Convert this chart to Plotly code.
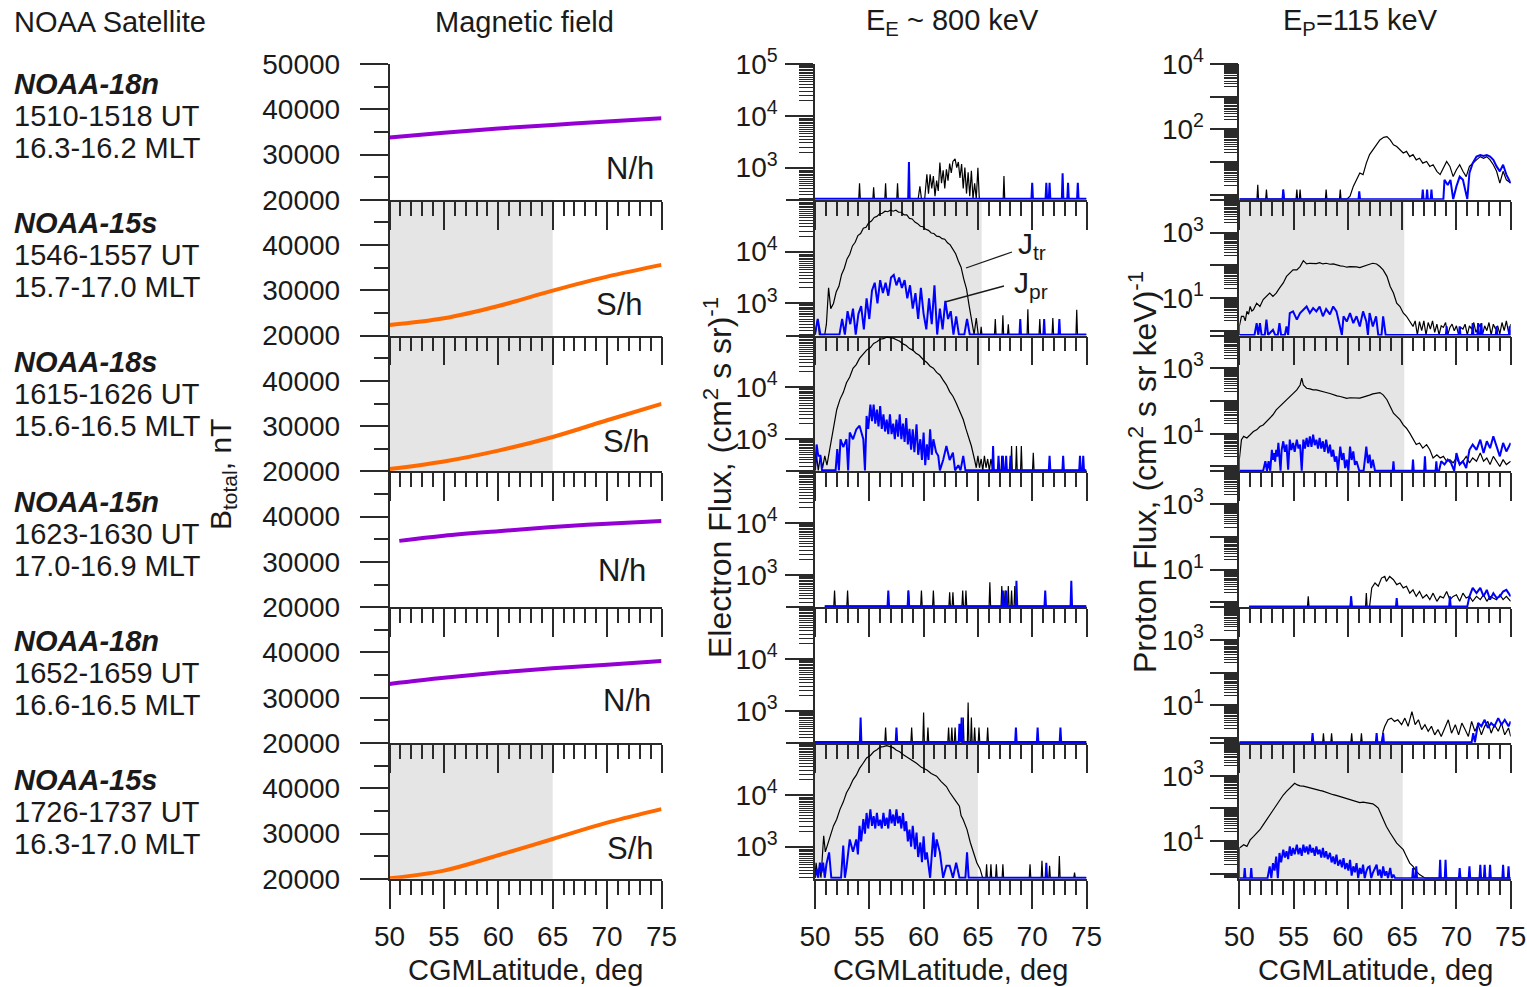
import math
import plotly.graph_objects as go

# ---------------------------------------------------------------------------
# Figure geometry (pixels)
# ---------------------------------------------------------------------------
W, H = 1527, 987
FONT = "Liberation Sans, Arial, sans-serif"
INK = "#1a1a1a"
AX = "#2a2a2a"
FS = 28          # tick labels
FS_TXT = 29      # panel texts
FS_YT = 32       # rotated flux titles

COL_X = [(389.5, 661.5), (815.0, 1086.5), (1239.3, 1510.7)]
ROW_TOP = 64.0
ROW_H = 135.8
NROW = 6

E_RANGE = [2.38, 5.0]      # log10 electron flux
P_RANGE = [-0.15, 4.0]     # log10 proton flux
E_FLOOR = 2.40
P_FLOOR = -0.13

# ---------------------------------------------------------------------------
# Passes
# ---------------------------------------------------------------------------
SAT_NAMES = ["NOAA-18n", "NOAA-15s", "NOAA-18s", "NOAA-15n", "NOAA-18n", "NOAA-15s"]
SAT_UT = ["1510-1518 UT", "1546-1557 UT", "1615-1626 UT",
          "1623-1630 UT", "1652-1659 UT", "1726-1737 UT"]
SAT_MLT = ["16.3-16.2 MLT", "15.7-17.0 MLT", "15.6-16.5 MLT",
           "17.0-16.9 MLT", "16.6-16.5 MLT", "16.3-17.0 MLT"]
HEMI = ["N/h", "S/h", "S/h", "N/h", "N/h", "S/h"]
PASS_START = [50.0, 50.0, 50.0, 50.9, 50.0, 50.0]

# ---------------------------------------------------------------------------
# Magnetic field, nT
# ---------------------------------------------------------------------------
B_LAT = [
    [50, 55, 60, 65, 70, 75],
    [50, 55, 60, 65, 70, 75],
    [50, 55, 60, 65, 70, 75],
    [50.9, 55, 60, 65, 70, 75],
    [50, 55, 60, 65, 70, 75],
    [50, 55, 60, 65, 70, 75],
]
B_TOTAL = [
    [33760, 34800, 35750, 36550, 37300, 38030],
    [22350, 23830, 26550, 29930, 33030, 35620],
    [20530, 22200, 24600, 27610, 31300, 34910],
    [34650, 35800, 36800, 37700, 38450, 39070],
    [33050, 34400, 35550, 36500, 37260, 38140],
    [20100, 21800, 25200, 28800, 32400, 35400],
]
B_COLOR = ["#9400d3", "#ff6a00", "#ff6a00", "#9400d3", "#9400d3", "#ff6a00"]

# ---------------------------------------------------------------------------
# Electron flux E_E ~ 800 keV, log10 (cm2 s sr)^-1
# J_tr = trapped (black), J_pr = precipitating (blue)
# ---------------------------------------------------------------------------
E1_TR = [(59.5, 2.4), (59.66, 2.64), (59.8, 2.4), (60.1, 2.4), (60.3, 2.87), (60.45, 2.5),
         (60.6, 2.87), (60.75, 2.6), (60.9, 2.84), (61.05, 2.45), (61.2, 2.75), (61.35, 2.55),
         (61.5, 3.10), (61.65, 2.7), (61.8, 2.95), (61.95, 2.6), (62.1, 2.97), (62.25, 2.75),
         (62.4, 3.08), (62.55, 2.9), (62.7, 3.12), (62.9, 3.17), (63.05, 3.0), (63.2, 3.11),
         (63.35, 2.8), (63.5, 3.07), (63.65, 2.6), (63.8, 3.0), (63.95, 2.5), (64.1, 2.91),
         (64.25, 2.45), (64.4, 2.94), (64.55, 2.4), (64.7, 2.7), (64.85, 2.4), (65.0, 3.0),
         (65.1, 2.4)]
E1_TR_SPIKES = [(54.1, 2.70), (55.4, 2.62), (56.5, 2.70), (57.6, 2.70), (67.4, 2.84)]
E1_PR_SPIKES = [(58.65, 3.11), (70.0, 2.71), (71.3, 2.71), (71.6, 2.71), (72.8, 2.89),
                (73.3, 2.71), (74.2, 2.71)]

E2_TR = [(50.0, 2.4), (50.25, 2.7), (50.4, 2.4), (50.9, 2.4), (51.05, 2.6), (51.25, 3.3),
         (51.45, 2.9), (51.7, 3.0), (51.95, 3.22), (52.2, 3.33), (52.45, 3.56), (52.7, 3.68),
         (52.95, 3.86), (53.2, 3.95), (53.45, 4.11), (53.7, 4.18), (53.95, 4.31), (54.2, 4.35),
         (54.45, 4.45), (54.7, 4.47), (54.95, 4.56), (55.2, 4.59), (55.45, 4.66), (55.7, 4.68),
         (55.95, 4.73), (56.2, 4.74), (56.45, 4.78), (56.7, 4.77), (56.95, 4.80), (57.2, 4.78),
         (57.45, 4.80), (57.7, 4.76), (57.95, 4.76), (58.2, 4.71), (58.45, 4.71), (58.7, 4.64),
         (58.95, 4.63), (59.2, 4.57), (59.45, 4.54), (59.7, 4.49), (59.95, 4.48), (60.2, 4.43),
         (60.45, 4.41), (60.7, 4.36), (60.95, 4.35), (61.2, 4.30), (61.45, 4.29), (61.7, 4.25),
         (61.95, 4.24), (62.2, 4.17), (62.45, 4.13), (62.7, 4.03), (62.95, 3.96), (63.2, 3.82),
         (63.45, 3.70), (63.7, 3.47), (63.95, 3.28), (64.2, 2.95), (64.45, 2.66), (64.65, 2.4),
         (64.85, 2.72), (65.0, 2.4)]
E2_TR_SPIKES = [(65.3, 2.55), (66.6, 2.70), (67.3, 2.77), (67.8, 2.60), (69.6, 2.89),
                (70.7, 2.70), (71.9, 2.72), (74.1, 2.88)]
E2_PR = [(50.0, 2.4), (50.25, 2.7), (50.5, 2.4), (52.25, 2.4), (52.5, 2.7), (52.75, 2.4),
         (53.0, 2.85), (53.25, 2.6), (53.5, 2.9), (53.75, 2.4), (54.0, 2.8), (54.25, 2.95),
         (54.5, 2.5), (54.75, 3.1), (55.0, 2.7), (55.25, 3.25), (55.5, 3.4), (55.75, 3.0),
         (56.0, 3.45), (56.25, 3.2), (56.5, 3.4), (56.75, 3.15), (57.0, 3.5), (57.25, 3.55),
         (57.5, 3.35), (57.75, 3.5), (58.0, 3.3), (58.25, 3.45), (58.5, 3.1), (58.75, 3.35),
         (59.0, 2.9), (59.25, 3.2), (59.5, 2.7), (59.75, 3.3), (60.0, 2.8), (60.25, 2.5),
         (60.5, 3.1), (60.75, 2.6), (61.0, 3.35), (61.25, 2.4), (61.5, 2.9), (61.75, 2.5),
         (62.0, 3.05), (62.25, 2.7), (62.5, 2.85), (62.75, 2.4), (63.0, 2.75), (63.25, 2.4),
         (63.75, 2.4), (64.0, 2.7), (64.25, 2.4)]
E2_PR_SPIKES = [(68.9, 2.70), (71.1, 2.70), (72.5, 2.70)]

E3_TR = [(50.0, 2.4), (50.15, 2.68), (50.3, 2.4), (50.5, 2.68), (50.7, 2.45), (50.9, 2.68),
         (51.1, 2.5), (51.4, 2.87), (51.7, 3.19), (52.0, 3.57), (52.3, 3.77), (52.6, 3.90),
         (52.9, 4.09), (53.2, 4.20), (53.5, 4.37), (53.8, 4.44), (54.1, 4.56), (54.4, 4.63),
         (54.75, 4.72), (55.1, 4.77), (55.4, 4.85), (55.7, 4.88), (56.0, 4.93), (56.3, 4.94),
         (56.6, 4.97), (56.9, 4.96), (57.2, 4.95), (57.5, 4.92), (57.8, 4.89), (58.1, 4.84),
         (58.4, 4.81), (58.7, 4.75), (59.0, 4.72), (59.3, 4.66), (59.6, 4.62), (60.0, 4.53),
         (60.3, 4.48), (60.6, 4.41), (60.9, 4.37), (61.2, 4.29), (61.5, 4.24), (61.8, 4.14),
         (62.1, 4.05), (62.4, 3.92), (62.7, 3.83), (63.0, 3.70), (63.3, 3.56), (63.65, 3.38),
         (63.9, 3.20), (64.1, 3.06), (64.4, 2.87), (64.7, 2.60), (64.85, 2.45), (65.0, 2.68),
         (65.15, 2.45), (65.3, 2.62), (65.45, 2.4), (65.6, 2.68), (65.75, 2.45), (65.9, 2.62),
         (66.05, 2.4), (66.2, 2.62), (66.35, 2.4)]
E3_TR_SPIKES = [(67.2, 2.68), (68.1, 2.87), (68.55, 2.87), (69.0, 2.87), (70.1, 2.74)]
E3_PR = [(50.0, 2.4), (50.15, 2.90), (50.3, 2.68), (50.5, 2.68), (50.65, 2.4), (51.9, 2.4),
         (52.05, 2.81), (52.2, 2.4), (52.35, 3.0), (52.6, 2.85), (52.9, 3.0), (53.05, 2.4),
         (53.2, 3.13), (53.5, 3.0), (53.8, 3.19), (54.1, 3.26), (54.45, 3.0), (54.6, 2.4),
         (54.75, 3.45), (54.9, 3.2), (55.1, 3.67), (55.25, 3.35), (55.4, 3.67), (55.55, 3.3),
         (55.7, 3.57), (55.85, 3.25), (56.0, 3.64), (56.15, 3.2), (56.3, 3.48), (56.45, 3.15),
         (56.6, 3.38), (56.75, 3.1), (56.9, 3.48), (57.05, 3.1), (57.2, 3.30), (57.35, 3.0),
         (57.5, 3.38), (57.65, 3.05), (57.8, 3.48), (57.95, 3.0), (58.1, 3.30), (58.25, 2.95),
         (58.4, 3.41), (58.55, 2.9), (58.7, 3.20), (58.85, 2.8), (59.0, 3.19), (59.15, 2.75),
         (59.35, 3.29), (59.5, 2.7), (59.7, 3.0), (59.85, 2.6), (60.0, 3.13), (60.15, 2.5),
         (60.3, 2.90), (60.45, 2.6), (60.6, 3.19), (60.75, 2.7), (60.9, 3.0), (61.15, 2.75),
         (61.35, 2.68), (61.5, 2.4), (61.8, 2.6), (62.1, 2.87), (62.4, 2.6), (62.7, 2.74),
         (62.9, 2.4), (63.2, 2.5), (63.4, 2.4), (63.65, 2.68), (63.85, 2.4)]
E3_PR_SPIKES = [(66.4, 2.87), (66.9, 2.68), (67.3, 2.68), (67.6, 2.68), (68.0, 2.68),
                (71.6, 2.68), (72.85, 2.68), (74.4, 2.68), (74.7, 2.68)]

E4_TR_SPIKES = [(51.8, 2.70), (53.0, 2.70), (58.6, 2.70), (59.8, 2.70), (60.9, 2.70),
                (62.4, 2.67), (62.7, 2.67), (63.6, 2.70), (63.9, 2.70), (66.1, 2.86),
                (67.2, 2.79), (67.5, 2.70), (67.8, 2.79), (68.1, 2.70), (68.4, 2.79)]
E4_PR_SPIKES = [(56.75, 2.70), (58.6, 2.70), (67.3, 2.70), (67.6, 2.70), (68.55, 2.89),
                (71.2, 2.70), (73.6, 2.89)]

E5_TR_SPIKES = [(56.5, 2.68), (58.9, 2.68), (60.0, 2.97), (60.4, 2.68), (62.3, 2.68),
                (62.6, 2.68), (62.9, 2.68), (63.65, 2.87), (64.1, 3.16), (64.4, 2.87),
                (64.7, 2.68), (65.1, 2.68), (65.9, 2.68)]
E5_PR_SPIKES = [(54.2, 2.87), (57.5, 2.68), (63.3, 2.75), (63.5, 2.87), (68.5, 2.68),
                (70.5, 2.68), (72.6, 2.68)]

E6_TR = [(50.0, 2.4), (50.1, 2.69), (50.25, 2.44), (50.4, 2.6), (50.55, 2.4), (50.7, 2.8),
         (50.8, 3.21), (50.95, 2.9), (51.1, 3.01), (51.4, 3.20), (51.7, 3.40), (52.0, 3.53),
         (52.3, 3.72), (52.6, 3.86), (52.9, 4.04), (53.2, 4.15), (53.5, 4.29), (53.8, 4.38),
         (54.1, 4.51), (54.4, 4.60), (54.75, 4.71), (55.1, 4.76), (55.4, 4.83), (55.7, 4.87),
         (56.0, 4.92), (56.3, 4.93), (56.6, 4.95), (56.9, 4.93), (57.2, 4.91), (57.5, 4.86),
         (57.8, 4.83), (58.1, 4.78), (58.4, 4.74), (58.8, 4.67), (59.35, 4.61), (59.8, 4.53),
         (60.3, 4.48), (60.7, 4.41), (61.2, 4.36), (61.6, 4.26), (62.1, 4.16), (62.4, 4.05),
         (62.7, 3.97), (63.0, 3.87), (63.3, 3.78), (63.45, 3.60), (63.65, 3.52), (64.0, 3.33),
         (64.3, 3.08), (64.6, 2.89), (64.9, 2.69), (65.2, 2.57), (65.4, 2.4)]
E6_TR_SPIKES = [(65.8, 2.66), (66.2, 2.66), (66.7, 2.66), (67.3, 2.66), (69.8, 2.66),
                (70.9, 2.73), (71.6, 2.63), (72.5, 2.82), (73.9, 2.50)]
E6_PR = [(50.0, 2.4), (50.15, 2.57), (50.3, 2.4), (50.45, 2.69), (50.6, 2.5), (50.75, 2.69),
         (50.9, 2.4), (51.05, 2.66), (51.3, 2.89), (51.5, 2.4), (52.4, 2.4), (52.6, 3.02),
         (52.75, 2.4), (52.9, 2.6), (53.2, 3.14), (53.5, 2.9), (53.8, 3.14), (53.95, 2.85),
         (54.1, 3.40), (54.25, 3.1), (54.45, 3.53), (54.6, 3.25), (54.75, 3.65), (54.9, 3.35),
         (55.1, 3.72), (55.25, 3.4), (55.4, 3.59), (55.55, 3.35), (55.7, 3.65), (55.85, 3.4),
         (56.0, 3.52), (56.15, 3.35), (56.3, 3.65), (56.45, 3.4), (56.6, 3.56), (56.75, 3.35),
         (56.9, 3.72), (57.05, 3.45), (57.2, 3.62), (57.35, 3.4), (57.5, 3.72), (57.65, 3.45),
         (57.8, 3.59), (57.95, 3.35), (58.1, 3.65), (58.25, 3.3), (58.4, 3.49), (58.55, 3.1),
         (58.7, 3.33), (58.85, 3.0), (59.0, 3.40), (59.2, 2.95), (59.35, 3.27), (59.5, 2.8),
         (59.7, 3.08), (59.85, 2.7), (60.0, 3.20), (60.15, 2.75), (60.3, 2.89), (60.6, 2.4),
         (60.9, 3.27), (61.05, 2.8), (61.2, 3.14), (61.5, 2.89), (61.8, 2.4), (62.1, 2.63),
         (62.4, 2.63), (62.7, 2.4), (63.0, 2.69), (63.3, 2.4), (63.85, 2.4), (64.0, 2.89),
         (64.15, 2.4)]
E6_PR_SPIKES = [(71.3, 2.69)]

# ---------------------------------------------------------------------------
# Proton flux E_P = 115 keV, log10 (cm2 s sr keV)^-1
# ---------------------------------------------------------------------------
P1_TR = [(59.9, -0.13), (60.2, -0.04), (60.5, 0.26), (60.8, 0.46), (61.1, 0.67), (61.4, 0.62),
         (61.7, 0.97), (62.0, 1.23), (62.3, 1.38), (62.6, 1.53), (62.95, 1.68), (63.3, 1.76),
         (63.6, 1.78), (63.9, 1.68), (64.2, 1.53), (64.5, 1.48), (64.8, 1.38), (65.1, 1.28),
         (65.4, 1.33), (65.7, 1.17), (66.0, 1.23), (66.3, 1.07), (66.6, 1.12), (66.9, 0.97),
         (67.25, 1.02), (67.55, 0.87), (67.85, 0.92), (68.2, 0.72), (68.5, 0.62), (68.8, 0.82),
         (69.1, 1.02), (69.4, 0.87), (69.7, 0.56), (70.0, 0.77), (70.3, 0.92), (70.6, 0.72),
         (70.9, 0.56), (71.2, 0.87), (71.5, 0.97), (71.85, 1.07), (72.2, 1.17), (72.5, 1.12),
         (72.8, 1.17), (73.1, 1.07), (73.4, 0.92), (73.7, 0.72), (74.0, 0.36), (74.3, 0.72),
         (74.6, 0.46), (75.0, 0.36)]
P1_TR_SPIKES = [(51.7, 0.31), (52.5, 0.16), (54.05, 0.16), (55.3, 0.16), (55.6, 0.16),
                (58.0, 0.16), (59.3, 0.16)]
P1_PR = [(68.8, -0.13), (68.9, 0.46), (69.2, 0.30), (69.45, 0.46), (69.7, -0.13), (70.0, 0.26),
         (70.3, 0.56), (70.6, 0.46), (70.9, -0.04), (71.0, -0.13), (71.2, 0.67), (71.5, 0.97),
         (71.85, 1.17), (72.2, 1.22), (72.5, 1.19), (72.8, 1.22), (73.1, 1.17), (73.4, 1.07),
         (73.7, 0.87), (74.0, 0.72), (74.3, 0.92), (74.6, 0.62), (75.0, 0.36)]
P1_PR_SPIKES = [(54.05, 0.16), (61.05, 0.11), (66.9, 0.16), (67.3, 0.16), (67.7, 0.16)]

P2_TR = [(50.0, 0.13), (50.2, 0.44), (50.4, 0.44), (50.55, 0.30), (50.7, 0.59), (50.85, 0.50),
         (51.0, 0.74), (51.15, 0.60), (51.3, 0.64), (51.6, 0.84), (51.9, 0.74), (52.2, 0.95),
         (52.5, 1.05), (52.8, 1.15), (53.1, 1.05), (53.4, 1.15), (53.7, 1.30), (54.05, 1.46),
         (54.35, 1.66), (54.65, 1.76), (54.95, 1.86), (55.3, 1.86), (55.6, 1.96), (55.9, 2.14),
         (56.2, 2.04), (56.5, 2.06), (56.8, 2.06), (57.1, 2.05), (57.4, 2.08), (57.7, 2.04),
         (58.0, 2.06), (58.35, 2.03), (58.65, 2.04), (59.0, 2.00), (59.3, 1.98), (59.6, 1.97),
         (59.9, 1.94), (60.2, 1.96), (60.5, 1.96), (60.8, 1.95), (61.1, 1.93), (61.4, 1.97),
         (61.7, 2.01), (62.0, 2.03), (62.3, 2.06), (62.65, 2.04), (62.95, 1.96), (63.25, 1.86),
         (63.6, 1.66), (63.9, 1.35), (64.2, 1.15), (64.5, 0.84), (64.8, 0.74), (65.1, 0.54),
         (65.4, 0.44), (65.7, 0.28), (66.0, 0.13), (66.2, 0.30), (66.4, -0.13), (66.6, 0.28),
         (66.8, 0.0), (67.0, 0.30), (67.2, -0.13), (67.4, 0.25), (67.6, 0.05), (67.8, 0.30),
         (68.0, -0.05), (68.2, 0.20), (68.4, -0.13), (68.6, 0.15), (68.8, 0.10), (69.0, 0.25),
         (69.2, -0.13), (69.4, 0.10), (69.6, 0.20), (69.8, 0.0), (70.0, 0.15), (70.2, -0.13),
         (70.4, 0.10), (70.6, 0.05), (70.8, 0.20), (71.0, -0.13), (71.2, 0.15), (71.4, 0.05),
         (71.6, 0.25), (71.8, -0.05), (72.0, 0.10), (72.2, 0.20), (72.4, -0.13), (72.6, 0.15),
         (72.8, 0.0), (73.0, 0.25), (73.2, -0.13), (73.4, 0.20), (73.6, 0.05), (73.8, 0.15),
         (74.0, -0.10), (74.2, 0.25), (74.4, 0.0), (74.6, 0.30), (74.8, -0.05), (75.0, 0.20)]
P2_PR = [(51.4, -0.13), (51.6, 0.23), (51.75, -0.13), (51.9, 0.23), (52.05, -0.13),
         (52.35, -0.13), (52.5, 0.34), (52.65, -0.13), (53.1, 0.03), (53.3, -0.13),
         (53.55, -0.13), (53.7, 0.23), (53.85, -0.13), (54.2, -0.13), (54.35, 0.13),
         (54.5, -0.13), (54.65, 0.54), (54.95, 0.59), (55.3, 0.34), (55.6, 0.54), (55.9, 0.64),
         (56.2, 0.74), (56.5, 0.54), (56.8, 0.69), (57.1, 0.59), (57.4, 0.74), (57.7, 0.44),
         (58.0, 0.66), (58.35, 0.50), (58.65, 0.74), (58.95, 0.59), (59.3, 0.13), (59.45, -0.13),
         (59.6, 0.44), (59.9, 0.28), (60.2, 0.54), (60.5, 0.23), (60.8, 0.44), (61.1, 0.13),
         (61.4, 0.59), (61.7, 0.28), (61.85, -0.13), (62.0, 0.54), (62.3, 0.13), (62.6, 0.44),
         (62.8, -0.13), (63.1, -0.13), (63.25, 0.44), (63.45, -0.13)]
P2_PR_SPIKES = [(69.1, 0.13), (70.3, 0.13), (71.5, 0.23), (72.0, 0.23), (72.3, 0.23),
                (73.7, 0.13), (74.9, 0.13)]

P3_TR = [(50.0, 0.21), (50.2, 0.82), (50.4, 0.92), (50.7, 0.87), (51.0, 0.97), (51.3, 1.07),
         (51.6, 1.12), (51.9, 1.22), (52.2, 1.27), (52.5, 1.38), (52.8, 1.48), (53.1, 1.58),
         (53.4, 1.73), (53.7, 1.83), (54.05, 1.93), (54.35, 2.04), (54.65, 2.14), (54.95, 2.24),
         (55.3, 2.34), (55.6, 2.49), (55.75, 2.70), (55.9, 2.49), (56.2, 2.39), (56.5, 2.37),
         (56.8, 2.34), (57.1, 2.34), (57.4, 2.32), (57.7, 2.30), (58.0, 2.26), (58.35, 2.23),
         (58.65, 2.19), (59.0, 2.16), (59.3, 2.14), (59.6, 2.10), (59.9, 2.08), (60.2, 2.10),
         (60.5, 2.09), (60.8, 2.10), (61.1, 2.09), (61.4, 2.12), (61.7, 2.14), (62.0, 2.18),
         (62.3, 2.22), (62.65, 2.25), (62.95, 2.26), (63.25, 2.19), (63.6, 2.04), (63.9, 1.83),
         (64.2, 1.63), (64.5, 1.53), (64.8, 1.43), (65.1, 1.27), (65.4, 1.17), (65.7, 1.02),
         (66.0, 0.82), (66.3, 0.67), (66.6, 0.72), (66.9, 0.56), (67.25, 0.67), (67.55, 0.51),
         (67.85, 0.26), (68.2, 0.36), (68.5, 0.26), (68.8, 0.31), (69.1, 0.16), (69.4, 0.21),
         (69.7, 0.11), (70.0, 0.26), (70.3, 0.06), (70.6, 0.16), (70.9, 0.31), (71.2, 0.11),
         (71.5, 0.26), (71.85, 0.16), (72.2, 0.41), (72.5, 0.16), (72.8, 0.26), (73.1, 0.06),
         (73.4, 0.31), (73.7, 0.16), (74.0, 0.0), (74.3, 0.21), (74.6, 0.06), (75.0, 0.16)]
P3_PR = [(52.2, -0.13), (52.4, 0.16), (52.55, -0.13), (52.7, 0.16), (52.85, -0.13),
         (53.0, 0.51), (53.1, 0.2), (53.2, 0.41), (53.3, 0.15), (53.4, 0.51), (53.5, 0.3),
         (53.6, 0.72), (53.7, 0.4), (53.8, -0.13), (53.9, 0.5), (54.05, 0.77), (54.2, 0.45),
         (54.35, 0.67), (54.5, -0.10), (54.65, 0.82), (54.8, 0.5), (54.95, 0.72), (55.1, 0.45),
         (55.3, 0.82), (55.45, 0.55), (55.6, 0.67), (55.75, -0.13), (55.9, 0.82), (56.05, 0.55),
         (56.2, 0.87), (56.35, 0.6), (56.5, 0.92), (56.65, 0.6), (56.8, 0.97), (56.95, 0.65),
         (57.1, 0.82), (57.25, 0.55), (57.4, 0.87), (57.55, 0.55), (57.7, 0.77), (57.85, 0.45),
         (58.0, 0.82), (58.2, 0.4), (58.35, 0.67), (58.5, 0.3), (58.65, 0.51), (58.8, 0.15),
         (58.95, 0.31), (59.1, -0.13), (59.3, 0.61), (59.45, 0.2), (59.6, 0.41), (59.75, -0.05),
         (59.9, 0.21), (60.05, -0.13), (60.2, 0.61), (60.35, 0.2), (60.5, 0.46), (60.65, 0.05),
         (60.8, 0.16), (61.05, -0.13), (61.45, -0.13), (61.6, 0.3), (61.7, 0.61), (61.85, 0.1),
         (62.0, 0.36), (62.15, -0.05), (62.3, 0.21), (62.5, -0.13)]
P3_PR_2 = [(68.4, -0.13), (68.6, 0.16), (68.9, 0.06), (69.2, 0.21), (69.5, 0.11), (69.8, -0.13),
           (70.0, 0.41), (70.3, 0.06), (70.6, 0.16), (70.9, -0.05), (71.2, 0.51), (71.5, 0.67),
           (71.85, 0.51), (72.2, 0.82), (72.5, 0.41), (72.8, 0.77), (73.1, 0.56), (73.4, 0.92),
           (73.7, 0.61), (74.0, 0.31), (74.3, 0.72), (74.6, 0.46), (75.0, 0.72)]
P3_PR_SPIKES = [(64.2, 0.16), (66.0, 0.21), (67.1, 0.31), (68.15, 0.16)]

P4_TR = [(62.0, -0.13), (62.2, 0.44), (62.5, 0.59), (62.8, 0.49), (63.1, 0.74), (63.4, 0.79),
         (63.55, 0.64), (63.85, 0.79), (64.2, 0.69), (64.5, 0.54), (64.8, 0.59), (65.1, 0.44),
         (65.4, 0.49), (65.7, 0.28), (66.0, 0.38), (66.3, 0.18), (66.6, 0.33), (66.9, 0.13),
         (67.25, 0.23), (67.55, 0.08), (67.85, 0.28), (68.2, 0.03), (68.5, 0.18), (68.8, 0.13),
         (69.1, 0.33), (69.4, 0.08), (69.7, 0.18), (70.0, 0.23), (70.3, 0.03), (70.6, 0.28),
         (70.9, 0.13), (71.2, 0.18), (71.5, 0.03), (71.85, 0.18), (72.2, 0.08), (72.5, 0.23),
         (72.8, 0.03), (73.1, 0.18), (73.4, 0.13), (73.7, 0.08), (74.0, 0.23), (74.3, 0.08),
         (74.6, 0.18), (75.0, 0.03)]
P4_TR_SPIKES = [(56.35, 0.18), (60.3, 0.18), (61.7, 0.28)]
P4_PR = [(71.0, -0.13), (71.2, 0.18), (71.5, 0.44), (71.85, 0.28), (72.2, 0.44), (72.5, 0.18),
         (72.8, 0.38), (73.1, 0.08), (73.4, 0.28), (73.7, 0.13), (74.0, 0.18), (74.3, 0.33),
         (74.6, 0.38), (75.0, 0.18)]
P4_PR_SPIKES = [(60.3, 0.18), (64.5, 0.13), (69.4, 0.18)]

P5_TR = [(63.1, -0.13), (63.25, 0.21), (63.4, 0.36), (63.7, 0.56), (64.0, 0.61), (64.3, 0.51),
         (64.6, 0.56), (64.95, 0.41), (65.25, 0.61), (65.55, 0.36), (65.9, 0.81), (66.2, 0.41),
         (66.5, 0.56), (66.8, 0.26), (67.1, 0.41), (67.4, 0.21), (67.7, 0.36), (68.0, 0.10),
         (68.3, 0.26), (68.6, 0.05), (68.9, 0.31), (69.25, 0.56), (69.55, 0.15), (69.9, 0.41),
         (70.2, 0.10), (70.5, 0.46), (70.8, 0.26), (71.1, 0.05), (71.4, 0.51), (71.7, 0.21),
         (72.0, 0.41), (72.3, 0.10), (72.6, 0.36), (72.9, 0.51), (73.2, 0.15), (73.5, 0.41),
         (73.85, 0.21), (74.15, 0.46), (74.45, 0.10), (74.8, 0.31), (75.0, 0.05)]
P5_TR_SPIKES = [(57.75, 0.15), (58.5, 0.15), (60.35, 0.15), (61.25, 0.15)]
P5_PR = [(71.4, -0.13), (71.55, 0.15), (71.7, -0.13), (72.0, 0.46), (72.3, 0.36), (72.6, 0.56),
         (72.9, 0.31), (73.2, 0.46), (73.5, 0.36), (73.85, 0.61), (74.15, 0.41), (74.45, 0.56),
         (74.8, 0.36), (75.0, 0.51)]
P5_PR_SPIKES = [(56.75, 0.15), (62.65, 0.15), (63.25, 0.15)]

P6_TR = [(50.0, 0.79), (50.2, 0.84), (50.4, 0.89), (50.7, 0.84), (51.0, 1.04), (51.3, 1.14),
         (51.6, 1.25), (51.9, 1.35), (52.2, 1.50), (52.5, 1.65), (52.8, 1.80), (53.1, 1.96),
         (53.4, 2.11), (53.7, 2.26), (54.05, 2.41), (54.35, 2.52), (54.65, 2.62), (54.95, 2.72),
         (55.1, 2.77), (55.35, 2.72), (55.6, 2.69), (55.9, 2.68), (56.2, 2.65), (56.5, 2.63),
         (56.8, 2.59), (57.1, 2.58), (57.4, 2.55), (57.7, 2.53), (58.0, 2.49), (58.35, 2.46),
         (58.65, 2.42), (59.0, 2.39), (59.3, 2.36), (59.6, 2.33), (59.9, 2.30), (60.2, 2.27),
         (60.5, 2.23), (60.8, 2.21), (61.1, 2.18), (61.4, 2.19), (61.7, 2.18), (62.0, 2.16),
         (62.3, 2.14), (62.55, 2.08), (62.8, 2.01), (63.05, 1.82), (63.25, 1.65), (63.55, 1.45),
         (63.9, 1.25), (64.2, 1.09), (64.5, 0.94), (64.8, 0.84), (65.1, 0.74), (65.4, 0.53),
         (65.7, 0.33), (66.0, 0.23), (66.3, 0.08), (66.6, -0.02), (66.9, -0.08), (67.1, -0.13)]
P6_PR = [(52.6, -0.13), (52.8, 0.23), (52.95, -0.13), (53.1, 0.33), (53.25, 0.1), (53.4, 0.53),
         (53.55, -0.13), (53.7, 0.64), (53.85, 0.35), (54.05, 0.74), (54.2, 0.5), (54.35, 0.69),
         (54.5, 0.45), (54.65, 0.84), (54.8, 0.55), (54.95, 0.79), (55.1, 0.6), (55.3, 0.89),
         (55.45, 0.6), (55.6, 0.79), (55.75, 0.55), (55.9, 0.89), (56.05, 0.65), (56.2, 0.84),
         (56.35, 0.6), (56.5, 0.89), (56.65, 0.65), (56.8, 0.79), (56.95, 0.55), (57.1, 0.84),
         (57.25, 0.6), (57.4, 0.74), (57.55, 0.5), (57.7, 0.79), (57.85, 0.5), (58.0, 0.69),
         (58.15, 0.45), (58.35, 0.64), (58.5, 0.35), (58.65, 0.53), (58.8, 0.3), (58.95, 0.59),
         (59.1, 0.25), (59.3, 0.43), (59.45, 0.2), (59.6, 0.48), (59.75, 0.15), (59.9, 0.33),
         (60.05, 0.1), (60.2, 0.43), (60.35, -0.05), (60.5, 0.23), (60.65, 0.05), (60.8, 0.33),
         (60.95, -0.13), (61.1, 0.18), (61.25, 0.0), (61.4, 0.28), (61.55, -0.13), (61.7, 0.08),
         (61.85, 0.2), (62.0, 0.23), (62.15, -0.13), (62.3, 0.03), (62.5, 0.2), (62.65, 0.28),
         (62.8, -0.05), (62.95, 0.13), (63.1, -0.13), (63.25, 0.23), (63.4, -0.05), (63.55, 0.08),
         (63.7, -0.13), (63.9, 0.18), (64.05, -0.13), (64.2, -0.02), (64.35, -0.13)]
P6_PR_SPIKES = [(50.5, 0.18), (51.1, 0.18), (66.0, 0.18), (66.3, 0.23), (68.5, 0.43),
                (69.0, 0.43), (70.3, 0.18), (71.2, 0.23), (72.2, 0.28), (72.6, 0.28),
                (73.1, 0.28), (74.3, 0.28), (74.8, 0.23)]

ELECTRON = [
    ([E1_TR], E1_TR_SPIKES, [], E1_PR_SPIKES),
    ([E2_TR], E2_TR_SPIKES, [E2_PR], E2_PR_SPIKES),
    ([E3_TR], E3_TR_SPIKES, [E3_PR], E3_PR_SPIKES),
    ([], E4_TR_SPIKES, [], E4_PR_SPIKES),
    ([], E5_TR_SPIKES, [], E5_PR_SPIKES),
    ([E6_TR], E6_TR_SPIKES, [E6_PR], E6_PR_SPIKES),
]
PROTON = [
    ([P1_TR], P1_TR_SPIKES, [P1_PR], P1_PR_SPIKES),
    ([P2_TR], [], [P2_PR], P2_PR_SPIKES),
    ([P3_TR], [], [P3_PR, P3_PR_2], P3_PR_SPIKES),
    ([P4_TR], P4_TR_SPIKES, [P4_PR], P4_PR_SPIKES),
    ([P5_TR], P5_TR_SPIKES, [P5_PR], P5_PR_SPIKES),
    ([P6_TR], [], [P6_PR], P6_PR_SPIKES),
]

# latitude of the shaded-interval edge per column / pass (None = no shading)
SHADE_END = [
    [None, 65.0, 65.0, None, None, 65.0],
    [None, 65.35, 65.35, None, None, 65.0],
    [None, 65.2, 65.2, None, None, 65.05],
]

# decade tick labels per column (first pass / other passes)
B_LABELS = ([20000, 30000, 40000, 50000], [20000, 30000, 40000])
E_LABELS = ([3, 4, 5], [3, 4])
P_LABELS = ([2, 4], [1, 3])
E_DECADES = [3, 4, 5]
P_DECADES = [0, 1, 2, 3, 4]
MINOR_MANTISSA = [2, 2.5, 3, 3.5, 4, 4.5, 5, 5.5, 6, 6.5, 7, 7.5, 8, 8.5, 9, 9.5]


# ---------------------------------------------------------------------------
# helpers
# ---------------------------------------------------------------------------
def pxx(x):
    return x / W


def pxy(y):
    return 1 - y / H


def assemble(start, segments, spikes, floor, half=0.07):
    """Join dense segments and isolated spikes over a floor-level baseline."""
    pts = [(start, floor)]
    reaches_end = any(seg[-1][0] >= 75.0 for seg in segments)
    if not reaches_end:
        pts.append((75.0, floor))
    for seg in segments:
        if seg[0][0] > start:
            pts.append((seg[0][0] - 0.03, floor))
        pts.extend(seg)
        if seg[-1][0] < 75.0:
            pts.append((seg[-1][0] + 0.03, floor))
    for lat, v in spikes:
        pts += [(lat - half, floor), (lat, v), (lat + half, floor)]
    pts.sort(key=lambda p: p[0])
    return [p[0] for p in pts], [10 ** p[1] for p in pts]


def sup(n):
    return "10<sup>%d</sup>" % n


def minor_vals(lo, hi):
    return [m * 10 ** d for d in range(int(math.floor(lo)) - 1, int(math.ceil(hi)) + 1)
            for m in MINOR_MANTISSA if lo <= math.log10(m * 10 ** d) <= hi]


fig = go.Figure()
tickfont = dict(family=FONT, size=FS, color=INK)
common_y = dict(ticks="outside", ticklen=28, tickwidth=1.5, tickcolor=AX, showgrid=False,
                zeroline=False, tickfont=tickfont, fixedrange=True)

for r in range(NROW):
    top = ROW_TOP + r * ROW_H
    bot = top + ROW_H
    ydom = [pxy(bot), pxy(top)]
    pick = 0 if r == 0 else 1
    for c in range(3):
        k = r * 3 + c + 1
        xa = "xaxis" if k == 1 else "xaxis%d" % k
        ya = "yaxis" if k == 1 else "yaxis%d" % k
        xr = "x" if k == 1 else "x%d" % k
        yr = "y" if k == 1 else "y%d" % k

        fig.layout[xa] = dict(
            domain=[pxx(COL_X[c][0]), pxx(COL_X[c][1])], anchor=yr,
            range=[50, 75], tickmode="array", tickvals=[50, 55, 60, 65, 70, 75],
            ticks="outside", ticklen=28, tickwidth=1.5, tickcolor=AX,
            showline=True, linecolor=AX, linewidth=1.5, showgrid=False, zeroline=False,
            showticklabels=(r == NROW - 1), tickfont=tickfont, ticklabelstandoff=4,
            minor=dict(ticks="outside", ticklen=14, tickwidth=1.5, tickcolor=AX,
                       tickmode="array",
                       tickvals=[v for v in range(51, 75) if v % 5 != 0]),
            fixedrange=True,
        )

        unlabeled = []
        if c == 0:
            vals = B_LABELS[pick]
            yaxis = dict(
                type="linear", range=[20000, 50000], tickmode="array",
                tickvals=vals, ticktext=[str(v) for v in vals],
                ticklabelstandoff=14,
                minor=dict(ticks="outside", ticklen=14, tickwidth=1.5, tickcolor=AX,
                           tickmode="array", tickvals=[25000, 35000, 45000]),
            )
        else:
            rng = E_RANGE if c == 1 else P_RANGE
            labels = (E_LABELS if c == 1 else P_LABELS)[pick]
            decades = E_DECADES if c == 1 else P_DECADES
            unlabeled = [10 ** d for d in decades if d not in labels]
            yaxis = dict(
                type="log", range=rng, tickmode="array",
                tickvals=[10 ** d for d in labels], ticktext=[sup(d) for d in labels],
                ticklabelstandoff=2 if c == 1 else 0,
                minor=dict(ticks="outside", ticklen=14, tickwidth=1.2, tickcolor=AX,
                           tickmode="array", tickvals=minor_vals(rng[0], rng[1])),
            )
        yaxis.update(domain=ydom, anchor=xr, showline=True, linecolor=AX, linewidth=1.5,
                     **common_y)
        fig.layout[ya] = yaxis

        # long decade ticks without labels, on an overlaid axis
        if unlabeled:
            n = 18 + k
            fig.layout["yaxis%d" % n] = dict(
                overlaying=yr, anchor=xr, side="left", type="log", range=yaxis["range"],
                tickmode="array", tickvals=unlabeled, showticklabels=False,
                showline=False, **common_y)
            fig.add_trace(go.Scatter(x=[None], y=[None], xaxis=xr, yaxis="y%d" % n,
                                     mode="lines", showlegend=False, hoverinfo="skip"))

        # shaded interval
        end = SHADE_END[c][r]
        if end is not None:
            fig.add_shape(type="rect", xref=xr, yref="paper", x0=50, x1=end,
                          y0=ydom[0], y1=ydom[1], fillcolor="#e5e5e5",
                          line_width=0, layer="below")

        # traces
        if c == 0:
            fig.add_trace(go.Scatter(
                x=B_LAT[r], y=B_TOTAL[r], mode="lines", xaxis=xr, yaxis=yr,
                line=dict(color=B_COLOR[r], width=4, shape="spline"),
                showlegend=False, hoverinfo="skip"))
        else:
            data = ELECTRON[r] if c == 1 else PROTON[r]
            floor = E_FLOOR if c == 1 else P_FLOOR
            tr_seg, tr_sp, pr_seg, pr_sp = data
            x1, y1 = assemble(PASS_START[r], tr_seg, tr_sp, floor)
            x2, y2 = assemble(PASS_START[r], pr_seg, pr_sp, floor)
            fig.add_trace(go.Scatter(
                x=x1, y=y1, mode="lines", xaxis=xr, yaxis=yr,
                line=dict(color="#000000", width=1.2),
                showlegend=False, hoverinfo="skip"))
            fig.add_trace(go.Scatter(
                x=x2, y=y2, mode="lines", xaxis=xr, yaxis=yr,
                line=dict(color="#0000ff", width=2),
                showlegend=False, hoverinfo="skip"))

# ---------------------------------------------------------------------------
# text
# ---------------------------------------------------------------------------
ann = []


def text(x, y, s, anchor="left", size=FS_TXT, angle=0):
    ann.append(dict(x=pxx(x), y=pxy(y), xref="paper", yref="paper", text=s,
                    showarrow=False, xanchor=anchor, yanchor="middle", textangle=angle,
                    font=dict(family=FONT, size=size, color=INK)))


text(12, 22, "NOAA Satellite")
text(524, 22, "Magnetic field", "center")
text(952, 22, "E<sub>E</sub> ~ 800 keV", "center")
text(1360, 22, "E<sub>P</sub>=115 keV", "center")

for i in range(NROW):
    y0 = 84 + i * 139.2
    text(12, y0, "<b><i>%s</i></b>" % SAT_NAMES[i])
    text(12, y0 + 32, SAT_UT[i])
    text(12, y0 + 64, SAT_MLT[i])

HEMI_POS = [(656, 168), (645, 305), (652, 441), (648, 570), (653, 700), (656, 848)]
for i, (hx, hy) in enumerate(HEMI_POS):
    text(hx, hy, HEMI[i], "right", size=31)

text(222, 475, "B<sub>total</sub>, nT", "center", size=30, angle=-90)
text(718, 478, "Electron Flux, (cm<sup>2</sup> s sr)<sup>-1</sup>", "center",
     size=FS_YT, angle=-90)
text(1143, 472, "Proton Flux, (cm<sup>2</sup> s sr keV)<sup>-1</sup>", "center",
     size=FS_YT, angle=-90)

for c in range(3):
    cx = 0.5 * (COL_X[c][0] + COL_X[c][1])
    text(cx, 970, "CGMLatitude, deg", "center")

text(1016, 246, "J<sub>tr</sub>", "left", size=30)
text(1012, 285, "J<sub>pr</sub>", "left", size=30)

for x0, y0, x1, y1 in [(966, 268, 1012, 252), (945, 302, 1004, 286)]:
    fig.add_shape(type="line", xref="paper", yref="paper", x0=pxx(x0), y0=pxy(y0),
                  x1=pxx(x1), y1=pxy(y1), line=dict(color=INK, width=1.3))

fig.update_layout(
    width=W, height=H, margin=dict(l=0, r=0, t=0, b=0, autoexpand=False),
    paper_bgcolor="white", plot_bgcolor="rgba(0,0,0,0)",
    annotations=ann, showlegend=False,
    font=dict(family=FONT, size=FS, color=INK),
)

fig.write_html(
    "out.html",
    config={"displayModeBar": False},
    post_script="document.body.style.margin='0';document.body.style.overflow='hidden';",
)
